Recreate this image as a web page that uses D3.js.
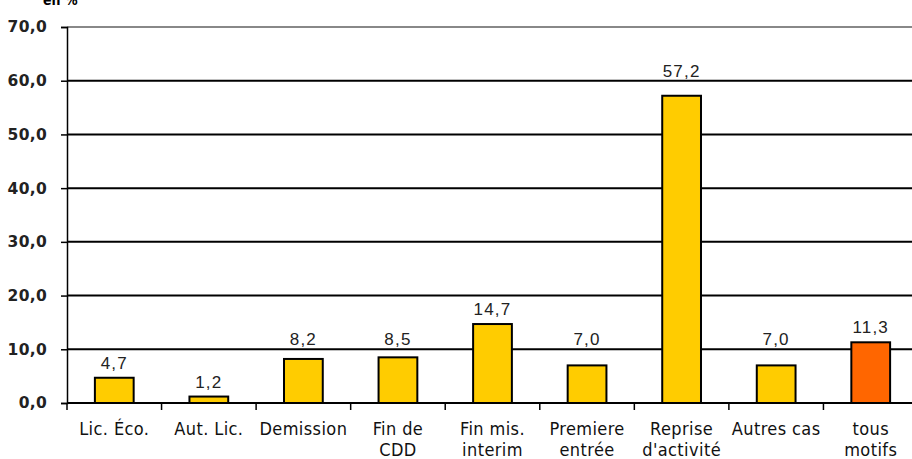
<!DOCTYPE html>
<html>
<head>
<meta charset="utf-8">
<script src="https://cdn.jsdelivr.net/npm/d3@7"></script>
<style>
  html, body { margin: 0; padding: 0; background: #fff; }
  svg { display: block; }
</style>
</head>
<body>
<svg id="chart" width="912" height="459"></svg>
<script>
// Taux par motif d'inscription, en %
const categories = [
  ["Lic. Éco."], ["Aut. Lic."], ["Demission"], ["Fin de", "CDD"],
  ["Fin mis.", "interim"], ["Premiere", "entrée"], ["Reprise", "d'activité"],
  ["Autres cas"], ["tous", "motifs"]
];
const values = [4.7, 1.2, 8.2, 8.5, 14.7, 7.0, 57.2, 7.0, 11.3];
const highlight = [false, false, false, false, false, false, false, false, true];
const yTicks = [0, 10, 20, 30, 40, 50, 60, 70];

const fmt = v => v.toFixed(1).replace(".", ",");

const svg = d3.select("#chart");
const margin = { left: 67, right: -6, top: 27, bottom: 56 };
const W = 912, H = 459;
const x0 = margin.left, x1 = W - margin.right;
const yTop = margin.top, yBot = H - margin.bottom;

const x = d3.scaleBand().domain(d3.range(values.length)).range([x0, x1]).paddingInner(0).paddingOuter(0);
const y = d3.scaleLinear().domain([0, 70]).range([yBot, yTop]);

// "en %" unit note above the axis
svg.append("text")
  .attr("x", 43).attr("y", 5)
  .attr("font-family", "DejaVu Sans Condensed, DejaVu Sans, sans-serif")
  .attr("font-weight", "bold").attr("font-size", 14)
  .attr("fill", "#000").text("en %");

// gridlines
svg.append("g").selectAll("line").data(yTicks.filter(t => t > 0))
  .join("line")
  .attr("x1", x0).attr("x2", x1)
  .attr("y1", d => y(d)).attr("y2", d => y(d))
  .attr("stroke", d => d === 70 ? "#888" : "#000")
  .attr("stroke-width", 2);

// y axis
const yAxis = svg.append("g").attr("transform", `translate(${x0},0)`)
  .call(d3.axisLeft(y).tickValues(yTicks).tickSize(6).tickPadding(14).tickFormat(fmt));
yAxis.select(".domain").attr("stroke", "#000").attr("stroke-width", 1.5);
yAxis.selectAll(".tick line").attr("stroke", "#000").attr("stroke-width", 1.5);
yAxis.selectAll(".tick text")
  .attr("font-family", "DejaVu Sans, sans-serif")
  .attr("font-size", 15.5).attr("font-weight", "bold").attr("fill", "#222")
  .style("letter-spacing", "0.3px");

// bars
const barW = x.bandwidth() * 0.41;
svg.append("g").selectAll("rect").data(values)
  .join("rect")
  .attr("x", (d, i) => x(i) + (x.bandwidth() - barW) / 2)
  .attr("y", d => y(d))
  .attr("width", barW)
  .attr("height", d => y(0) - y(d))
  .attr("fill", (d, i) => highlight[i] ? "#FF6600" : "#FFCC00")
  .attr("stroke", "#000").attr("stroke-width", 2);

// x axis
const xAxis = svg.append("g").attr("transform", `translate(0,${yBot})`);
xAxis.append("line").attr("x1", x0).attr("x2", x1).attr("y1", 0).attr("y2", 0)
  .attr("stroke", "#000").attr("stroke-width", 2);
xAxis.selectAll("line.tk").data(d3.range(values.length + 1))
  .join("line").attr("class", "tk")
  .attr("x1", i => x0 + i * x.bandwidth()).attr("x2", i => x0 + i * x.bandwidth())
  .attr("y1", 0).attr("y2", 7)
  .attr("stroke", "#000").attr("stroke-width", 1.5);

// category labels
const lab = svg.append("g").selectAll("text").data(categories)
  .join("text")
  .attr("x", (d, i) => x(i) + x.bandwidth() / 2)
  .attr("y", yBot + 32)
  .attr("text-anchor", "middle")
  .attr("font-family", "DejaVu Sans Condensed, DejaVu Sans, sans-serif")
  .attr("font-stretch", "condensed")
  .attr("font-size", 18).attr("fill", "#111")
  .style("letter-spacing", "0.4px");
lab.selectAll("tspan").data(d => d)
  .join("tspan")
  .attr("x", function () { return d3.select(this.parentNode).attr("x"); })
  .attr("dy", (d, j) => j === 0 ? 0 : 21)
  .text(d => d);

// value labels; nudged above any gridline they would cross
const gap = 9, textH = 13;
svg.append("g").selectAll("text").data(values)
  .join("text")
  .attr("x", (d, i) => x(i) + x.bandwidth() / 2)
  .attr("y", d => {
    let base = y(d) - gap;
    for (const t of yTicks) {
      const gy = y(t);
      if (gy < base + 2 && gy > base - textH - 2) base = gy - 4;
    }
    return base;
  })
  .attr("text-anchor", "middle")
  .attr("font-family", "Liberation Sans, Arial, sans-serif")
  .attr("font-size", 17).attr("fill", "#222")
  .style("letter-spacing", "1.2px")
  .text(fmt);
</script>
</body>
</html>
